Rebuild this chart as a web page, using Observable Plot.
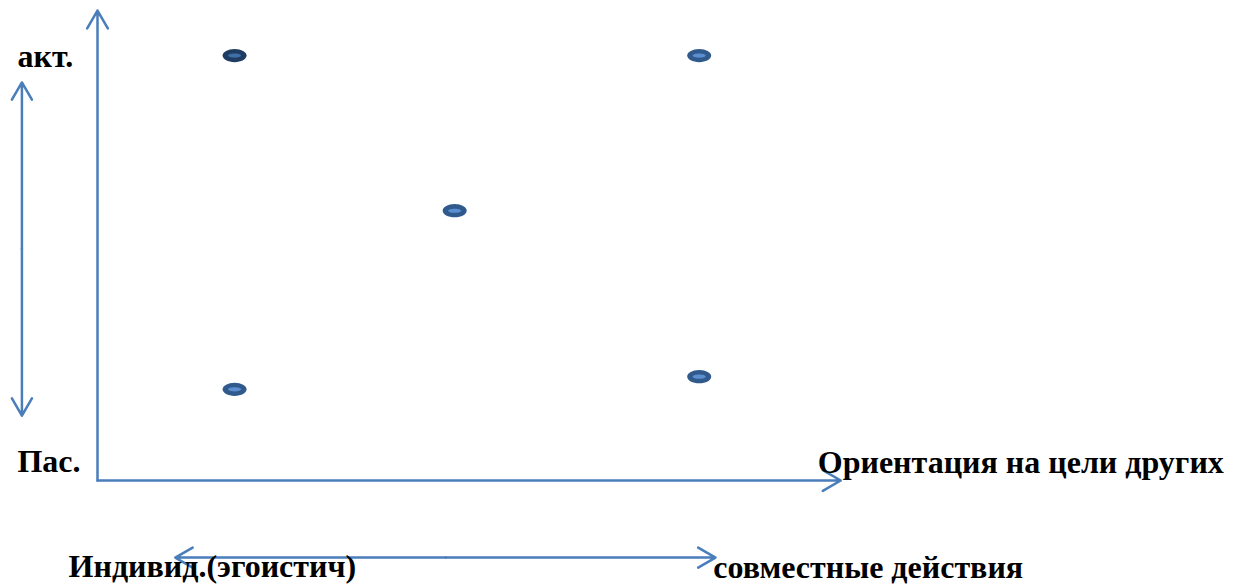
<!DOCTYPE html>
<html>
<head>
<meta charset="utf-8">
<script src="https://cdn.jsdelivr.net/npm/d3@7"></script>
<script src="https://cdn.jsdelivr.net/npm/@observablehq/plot@0.6"></script>
<style>
  html, body { margin: 0; padding: 0; background: #ffffff; }
  #chart svg { display: block; }
  #chart text { font-family: "Liberation Serif", "Times New Roman", "DejaVu Serif", serif !important; }
</style>
</head>
<body>
<div id="chart"></div>
<script>
// ---- Data (conceptual units: origin at axes corner, 0..100 on each axis) ----
const pointNames = ["A", "B", "C", "D", "E"];
const pointX = [18.5, 81.2, 48.2, 18.5, 81.2];
const pointY = [90.4, 90.4, 57.4, 19.4, 22.1];
const pointTone = ["dark", "mid", "mid", "mid", "mid"];

// arrows: [x1, y1, x2, y2]
const axisArrowsX1 = [0, 0];
const axisArrowsY1 = [0, 0];
const axisArrowsX2 = [0, 100.3];
const axisArrowsY2 = [100, 0];

// double arrows drawn as two halves from their midpoints
const dblArrowsX1 = [-10.2, -10.2, 47, 47];
const dblArrowsY1 = [49.3, 49.3, -16.4, -16.4];
const dblArrowsX2 = [-10.2, -10.2, 10.5, 83.4];
const dblArrowsY2 = [84.7, 13.8, -16.4, -16.4];

const labelTexts = ["акт.", "Пас.", "Ориентация на цели других", "Индивид.(эгоистич)", "совместные действия"];
const labelX = [-10.8, -10.8, 97.2, -3.9, 83.1];
const labelY = [87.9, 1.9, 1.5, -20.6, -20.8];

// ---- build tables ----
const points = pointNames.map((n, i) => ({name: n, x: pointX[i], y: pointY[i], tone: pointTone[i]}));
const axisArrows = axisArrowsX1.map((_, i) => ({x1: axisArrowsX1[i], y1: axisArrowsY1[i], x2: axisArrowsX2[i], y2: axisArrowsY2[i]}));
const dblArrows = dblArrowsX1.map((_, i) => ({x1: dblArrowsX1[i], y1: dblArrowsY1[i], x2: dblArrowsX2[i], y2: dblArrowsY2[i]}));
const labels = labelTexts.map((t, i) => ({text: t, x: labelX[i], y: labelY[i]}));

// ellipse symbol factory
function ellipseSymbol(ratio) {
  const k = 0.5523;
  return {
    draw(ctx, size) {
      const rx = Math.sqrt(size / Math.PI), ry = rx * ratio;
      ctx.moveTo(rx, 0);
      ctx.bezierCurveTo(rx, ry * k, rx * k, ry, 0, ry);
      ctx.bezierCurveTo(-rx * k, ry, -rx, ry * k, -rx, 0);
      ctx.bezierCurveTo(-rx, -ry * k, -rx * k, -ry, 0, -ry);
      ctx.bezierCurveTo(rx * k, -ry, rx, -ry * k, rx, 0);
      ctx.closePath();
    }
  };
}

const lineColor = "#4a7ebb";
const serif = "Liberation Serif, Times New Roman, DejaVu Serif, serif";

const chart = Plot.plot({
  width: 1234,
  height: 587,
  marginLeft: 97,
  marginRight: 396,
  marginTop: 10,
  marginBottom: 107,
  x: {domain: [0, 100], axis: null},
  y: {domain: [0, 100], axis: null},
  style: {fontFamily: serif, background: "#ffffff"},
  marks: [
    Plot.arrow(axisArrows, {x1: "x1", y1: "y1", x2: "x2", y2: "y2", stroke: lineColor, strokeWidth: 2.5, headLength: 12.4, headAngle: 60}),
    Plot.arrow(dblArrows, {x1: "x1", y1: "y1", x2: "x2", y2: "y2", stroke: lineColor, strokeWidth: 2.5, headLength: 12, headAngle: 60}),
    Plot.dot(points, {x: "x", y: "y", r: 12, symbol: ellipseSymbol(0.55),
      fill: d => d.tone === "dark" ? "#1f3c62" : "#30598c", stroke: "none"}),
    Plot.dot(points, {x: "x", y: "y", r: 6.5, symbol: ellipseSymbol(0.32),
      fill: d => d.tone === "dark" ? "#3f6fa6" : "#5b8fcf", stroke: "none"}),
    Plot.text(labels, {x: "x", y: "y", text: "text", textAnchor: "start", lineAnchor: "bottom",
      fontSize: 32, fontWeight: "bold", fontFamily: serif, fill: "#000000"})
  ]
});
document.getElementById("chart").appendChild(chart);
</script>
</body>
</html>
